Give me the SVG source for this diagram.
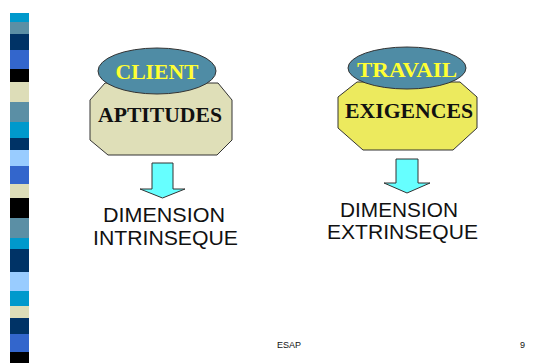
<svg xmlns="http://www.w3.org/2000/svg" width="535" height="363" viewBox="0 0 535 363">
<style>
.oct{stroke:#333;stroke-width:1}
.ell{fill:#4f8ca5;stroke:#333;stroke-width:1}
.top{font-family:"Liberation Serif",serif;font-weight:bold;font-size:20px;fill:#ffff33;text-anchor:middle}
.mid{font-family:"Liberation Serif",serif;font-weight:bold;font-size:20px;fill:#111;text-anchor:middle}
.dim{font-family:"Liberation Sans",Arial,sans-serif;font-size:21px;fill:#111;text-anchor:middle}
.arr{fill:#66ffff;stroke:#333;stroke-width:1}
.foot{font-family:"Liberation Sans",Arial,sans-serif;font-size:9px;fill:#111}
</style>
<rect width="535" height="363" fill="#fff"/>
<g id="stripe">
<rect x="10" y="13" width="19" height="9" fill="#0099cc"/>
<rect x="10" y="22" width="19" height="12" fill="#5b8fa5"/>
<rect x="10" y="34" width="19" height="16" fill="#003366"/>
<rect x="10" y="50" width="19" height="19" fill="#3366cc"/>
<rect x="10" y="69" width="19" height="13" fill="#000"/>
<rect x="10" y="82" width="19" height="20" fill="#ddddb8"/>
<rect x="10" y="102" width="19" height="20" fill="#5b8fa5"/>
<rect x="10" y="122" width="19" height="16" fill="#0099cc"/>
<rect x="10" y="138" width="19" height="12" fill="#003366"/>
<rect x="10" y="150" width="19" height="16" fill="#99ccff"/>
<rect x="10" y="166" width="19" height="18" fill="#3366cc"/>
<rect x="10" y="184" width="19" height="14" fill="#ddddb8"/>
<rect x="10" y="198" width="19" height="20" fill="#000"/>
<rect x="10" y="218" width="19" height="20" fill="#5b8fa5"/>
<rect x="10" y="238" width="19" height="11" fill="#0099cc"/>
<rect x="10" y="249" width="19" height="23" fill="#003366"/>
<rect x="10" y="272" width="19" height="19" fill="#99ccff"/>
<rect x="10" y="291" width="19" height="15" fill="#0099cc"/>
<rect x="10" y="306" width="19" height="12" fill="#ddddb8"/>
<rect x="10" y="318" width="19" height="16" fill="#003366"/>
<rect x="10" y="334" width="19" height="18" fill="#3366cc"/>
<rect x="10" y="352" width="19" height="11" fill="#000"/>
</g>
<g id="aptitudes">
<polygon class="oct" fill="#dfdfb8" points="105,83 218,83 232,100 232,140 217,155 108,155 90,140 90,100"/>
<text class="mid" x="160" y="122" textLength="124" lengthAdjust="spacingAndGlyphs">APTITUDES</text>
</g>
<g id="client">
<ellipse class="ell" cx="157" cy="71" rx="59" ry="23"/>
<text class="top" x="157" y="79" textLength="83" lengthAdjust="spacingAndGlyphs">CLIENT</text>
</g>
<g id="exigences">
<polygon class="oct" fill="#ecea5e" points="357,82 460,82 477,97 477,128 453,150 363,150 338,128 338,97"/>
<text class="mid" x="409" y="118" textLength="128" lengthAdjust="spacingAndGlyphs">EXIGENCES</text>
</g>
<g id="travail">
<ellipse class="ell" cx="407" cy="68" rx="59" ry="21"/>
<text class="top" x="407" y="77" textLength="100" lengthAdjust="spacingAndGlyphs">TRAVAIL</text>
</g>
<g id="connectors">
<polygon class="arr" points="152,163 173,163 173,189 185,189 162.5,198 140,189 152,189"/>
<polygon class="arr" points="396,159 418,159 418,183 430,183 407,193 384,183 396,183"/>
</g>
<g id="intrinseque">
<text class="dim" x="164" y="222" textLength="122" lengthAdjust="spacingAndGlyphs">DIMENSION</text>
<text class="dim" x="165.5" y="245" textLength="145" lengthAdjust="spacingAndGlyphs">INTRINSEQUE</text>
</g>
<g id="extrinseque">
<text class="dim" x="399" y="217" textLength="118" lengthAdjust="spacingAndGlyphs">DIMENSION</text>
<text class="dim" x="402.5" y="239" textLength="151" lengthAdjust="spacingAndGlyphs">EXTRINSEQUE</text>
</g>
<text class="foot" x="277" y="348">ESAP</text>
<text class="foot" x="520" y="348">9</text>
</svg>
